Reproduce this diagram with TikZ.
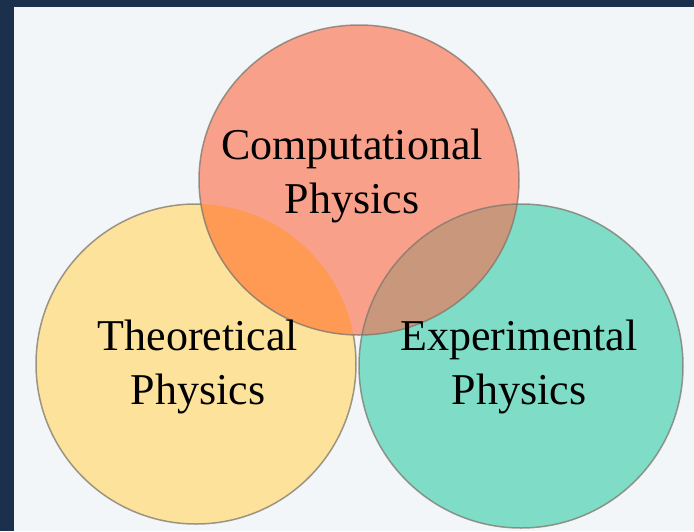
\documentclass[tikz,border=0pt]{standalone}
\usepackage{fontspec}
\setmainfont{Liberation Serif}
\usepackage{xcolor}
\usepackage{tikz}

\definecolor{navybg}{HTML}{1A304C}
\definecolor{panelbg}{HTML}{F2F6F9}
\definecolor{compred}{HTML}{F9A08B}
\definecolor{theoyellow}{HTML}{FDE29B}
\definecolor{expteal}{HTML}{7FDCC7}
\definecolor{redyellow}{HTML}{FF9A55}
\definecolor{redteal}{HTML}{C9977C}
\definecolor{rimgray}{HTML}{7E776C}

\begin{document}
\begin{tikzpicture}[x=1pt, y=-1pt,
    rim/.style={draw=rimgray, line width=1.5pt, draw opacity=0.75},
    every node/.style={align=center, inner sep=0pt, text=black,
                       font=\fontsize{44}{54}\selectfont}]

  % backdrop and light panel
  \fill[navybg] (0,0) rectangle (694,531);
  \fill[panelbg] (14,7) rectangle (694,531);
  \useasboundingbox (0,0) rectangle (694,531);

  \coordinate (comp) at (359,180);
  \coordinate (theo) at (196,364);
  \coordinate (expt) at (521,366);

  % the three sets
  \fill[theoyellow] (theo) circle (160);
  \draw[rim] (theo) circle (160);
  \fill[expteal] (expt) circle (162);
  \fill[compred] (comp) circle[x radius=160, y radius=155];
  \begin{scope}
    \clip (comp) circle[x radius=160, y radius=155];
    \fill[redyellow] (theo) circle (160);
    \fill[redteal] (expt) circle (162);
  \end{scope}
  \draw[rim] (comp) circle[x radius=160, y radius=155];
  \draw[rim] (expt) circle (162);

  % labels
  \node (complabel) at (352,176) {Computational\\Physics};
  \node (theolabel) at (198,367) {Theoretical\\Physics};
  \node (exptlabel) at (519,367) {Experimental\\Physics};
\end{tikzpicture}
\end{document}
